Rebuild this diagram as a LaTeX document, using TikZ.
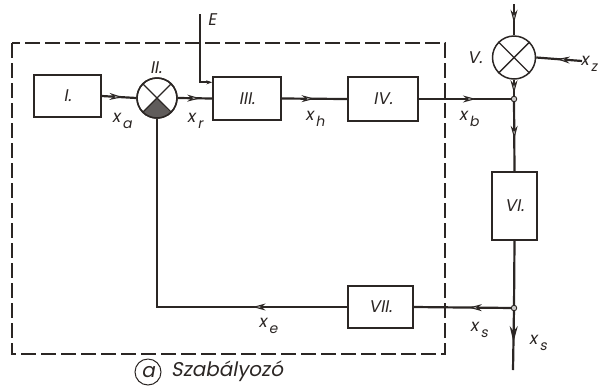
\documentclass[tikz,border=0pt]{standalone}
\usepackage{fontspec}
\setmainfont{Liberation Sans}
\newfontfamily\labfont[FakeSlant=0.18]{Poppins}
\usetikzlibrary{arrows.meta,decorations.markings,calc}
\definecolor{ink}{rgb}{0.17,0.15,0.14}
\tikzset{
  blk/.style={draw=ink, line width=1.4bp, rectangle, inner sep=0pt, text=ink, font=\labfont\fontsize{17}{17}\selectfont},
  sumc/.style={draw=ink, line width=1.5bp, circle, inner sep=0pt, minimum size=#1},
  wire/.style={draw=ink, line width=2.2bp},
  midarr/.style={wire, postaction={decorate}, decoration={markings, mark=at position #1 with {\arrow{Stealth[length=13bp,width=7bp,fill=ink!35,line width=1bp]}}}},
  lbl/.style={font=\labfont\fontsize{17}{17}\selectfont, text=ink, inner sep=0pt},
  jdot/.style={circle, draw=ink, fill=ink!25, line width=0.9bp, inner sep=0pt, minimum size=5.5bp},
}
\newcommand{\xsub}[1]{x\kern2.2bp\raisebox{-0.6ex}{\fontsize{14}{14}\selectfont #1}}
\begin{document}
\begin{tikzpicture}[x=1bp,y=1bp]
\useasboundingbox (0,0) rectangle (605,-387);
% dashed controller border
\draw[ink, line width=1.1bp, dash pattern=on 15bp off 5bp] (12,-43) rectangle (445,-354);
% blocks
\node[blk, minimum width=67bp, minimum height=42bp] (b1) at (67.5,-96) {I.};
\node[sumc=40bp] (s2) at (157,-98) {};
\node[blk, minimum width=68bp, minimum height=43bp] (b3) at (247,-98.5) {III.};
\node[blk, minimum width=70bp, minimum height=44bp] (b4) at (383,-99) {IV.};
\node[sumc=43bp] (s5) at (514,-57.5) {};
\node[blk, minimum width=45bp, minimum height=68bp] (b6) at (514.5,-206) {VI.};
\node[blk, minimum width=65bp, minimum height=42bp] (b7) at (380.5,-307) {VII.};
\coordinate (j1) at (514,-99);
\coordinate (j2) at (514,-308);
\coordinate (eTop) at (200,-14);
\coordinate (vTop) at (514,-4);
\coordinate (zR) at (582,-61);
\coordinate (sOut) at (513,-370);
% summing junction II: shaded lower quadrant and cross
\fill[ink!75] (s2.center) -- (s2.south west) arc[start angle=225, end angle=315, radius=20bp] -- cycle;
\draw[ink, line width=1.4bp] (s2.north west) -- (s2.south east) (s2.north east) -- (s2.south west);
\draw[ink, line width=1.5bp] (s2) circle[radius=20bp];
% summing junction V: cross
\draw[ink, line width=1.4bp] (s5.north west) -- (s5.south east) (s5.north east) -- (s5.south west);
% connectors
\draw[midarr=0.6] (b1.east) -- (s2.west);
\draw[midarr=0.65] (s2.east) -- (b3.west);
\draw[midarr=0.5] (b3.east) -- (b4.west);
\draw[midarr=0.6] (b4.east) -- (j1);
\draw[midarr=0.7] (s5.south) -- (j1);
\draw[midarr=0.55] (j1) -- (b6.north);
\draw[wire] (b6.south) -- (j2);
\draw[midarr=0.45] (j2) -- (b7.east);
\draw[midarr=0.25] (b7.west) -| (s2.south);
\draw[wire, -{Stealth[length=6bp,width=4bp]}] (eTop) |- ([yshift=-6bp]b3.north west);
\draw[midarr=0.6] (vTop) -- (s5.north);
\draw[midarr=0.55] (zR) -- (s5.east);
\draw[wire, postaction={decorate}, decoration={markings, mark=at position 0.55 with {\arrow{Stealth[length=16bp,width=8bp]}}}] (j2) -- (sOut);
\node[jdot] (d1) at (j1) {};
\node[jdot] (d2) at (j2) {};
% labels
\node[lbl] (lII) at (156,-68) {II.};
\node[lbl] (lV) at (475,-58) {V.};
\node[lbl] (lE) at (212,-20) {E};
\node[lbl] (la) at (122,-121) {\xsub{a}};
\node[lbl] (lr) at (195,-121) {\xsub{r}};
\node[lbl] (lh) at (315,-119) {\xsub{h}};
\node[lbl] (lb) at (469,-119) {\xsub{b}};
\node[lbl] (lz) at (589,-64) {\xsub{z}};
\node[lbl] (le) at (268,-326) {\xsub{e}};
\node[lbl] (ls1) at (479,-330) {\xsub{s}};
\node[lbl] (ls2) at (538,-343) {\xsub{s}};
\node[lbl, circle, draw=ink, line width=1bp, minimum size=26bp, font=\labfont\fontsize{20}{20}\selectfont] (ca) at (148,-372) {a};
\node[lbl, anchor=west, font=\labfont\fontsize{20}{20}\selectfont] (cap) at (171,-371) {Szabályozó};
\end{tikzpicture}
\end{document}
